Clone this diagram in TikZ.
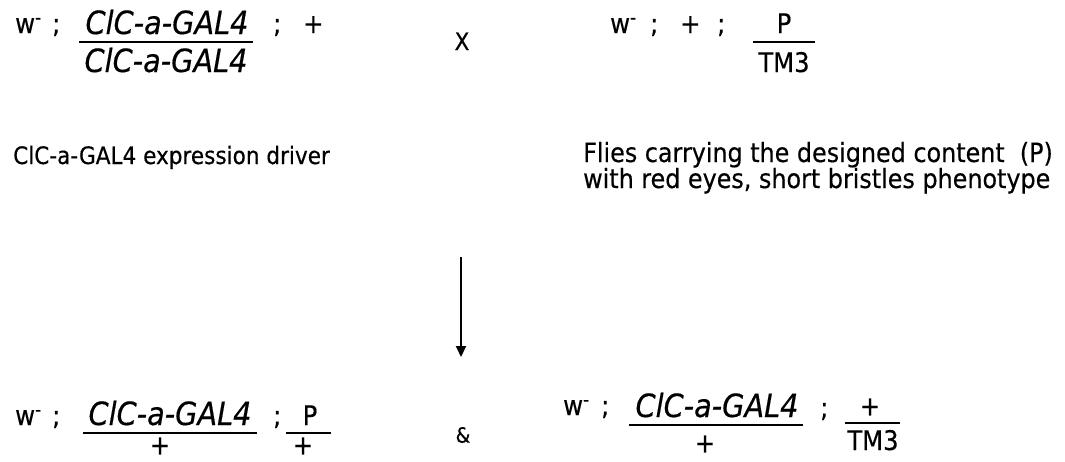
\documentclass[tikz,border=0pt]{standalone}
\usepackage{fontspec}
\setmainfont{DejaVu Sans Condensed}[FakeBold=0.4]
\usetikzlibrary{arrows.meta}

\tikzset{
  txt/.style={inner sep=0pt, anchor=base west},
  gene/.style={inner sep=0pt, anchor=base, font=\fontsize{32}{34}\selectfont\itshape},
  allele/.style={inner sep=0pt, anchor=base},
  note/.style={inner sep=0pt, anchor=base west, font=\fontsize{24}{26}\selectfont},
  bar/.style={black, line width=2.4pt}
}
\newcommand{\wminus}{w\textsuperscript{-}}

\begin{document}
\begin{tikzpicture}[x=1pt,y=-1pt,font=\fontsize{27}{29}\selectfont]
\useasboundingbox (0,0) rectangle (1065,461);

% parents
\node[txt] (wa) at (15,33) {\wminus};
\node[txt] (sa) at (52,33) {;};
\draw[bar] (79,42) -- (253,42);
\node[gene] (numa) at (167,34) {ClC-a-GAL4};
\node[gene] (dena) at (166,72) {ClC-a-GAL4};
\node[txt] (sb) at (273,33) {;};
\node[txt] (pa) at (303,33) {+};

\node[allele, font=\fontsize{24}{26}\selectfont] (cross) at (462,50) {X};

\node[txt] (wb) at (610,33) {\wminus};
\node[txt] (sc) at (650,33) {;};
\node[txt] (pb) at (680,33) {+};
\node[txt] (sd) at (717,33) {;};
\draw[bar] (753,42) -- (815,42);
\node[allele] (numb) at (784,33) {P};
\node[allele] (denb) at (784,72) {TM3};

\node[note] (drv) at (13,164) {ClC-a-GAL4 expression driver};
\node[note, font=\fontsize{26.5}{28}\selectfont] (fl1) at (583,162) {Flies carrying the designed content\ \ (P)};
\node[note, font=\fontsize{26.5}{28}\selectfont] (fl2) at (583,188) {with red eyes, short bristles phenotype};

% offspring
\coordinate (from) at (461,257);
\coordinate (to) at (461,357);
\draw[line width=2pt, -{Triangle[length=11pt,width=10pt]}] (from) -- (to);

\node[txt] (wc) at (15,425) {\wminus};
\node[txt] (se) at (52,425) {;};
\draw[bar] (83,433) -- (257,433);
\node[gene] (numc) at (170,425) {ClC-a-GAL4};
\node[inner sep=0pt] (denc) at (160,446) {+};
\node[txt] (sf) at (273,425) {;};
\draw[bar] (286,433) -- (331,433);
\node[allele] (numd) at (310,425) {P};
\node[inner sep=0pt] (dend) at (303,446) {+};

\node[inner sep=0pt, font=\fontsize{21}{23}\selectfont] (amp) at (463,435) {\&};

\node[txt] (wd) at (563,415) {\wminus};
\node[txt] (sg) at (601,415) {;};
\draw[bar] (629,425) -- (803,425);
\node[gene] (nume) at (717,417) {ClC-a-GAL4};
\node[inner sep=0pt] (dene) at (705,444) {+};
\node[txt] (sh) at (820,417) {;};
\draw[bar] (845,423) -- (900,423);
\node[inner sep=0pt] (numf) at (870,407) {+};
\node[allele] (denf) at (873,450) {TM3};

\end{tikzpicture}
\end{document}
